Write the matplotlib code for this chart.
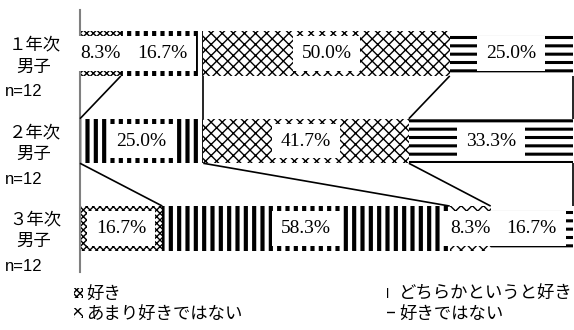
import matplotlib
matplotlib.use("Agg")
import matplotlib.pyplot as plt
import numpy as np

# ---- data ----
grades = ['１年次', '２年次', '３年次']
gender = '男子'
n_labels = ['n=12', 'n=12', 'n=12']
series = ['好き', 'どちらかというと好き', 'あまり好きではない', '好きではない']
like = [8.3, 0.0, 16.7]
rather_like = [16.7, 25.0, 58.3]
not_much = [50.0, 41.7, 8.3]
dislike = [25.0, 33.3, 16.7]

hatches = ['xxxxx', '||', 'xxx', '--']
hatch_lws = [1.0, 3.0, 1.0, 2.2]

plt.rcParams['font.family'] = ['Noto Sans CJK JP', 'DejaVu Sans']

fig = plt.figure(figsize=(5.74, 3.30), dpi=100)
ax = fig.add_axes([80 / 574, 1 - 272 / 330, 493 / 574, 262 / 330])

values = np.array([like, rather_like, not_much, dislike])
ypos = np.arange(len(grades)) + 0.5
h = 0.51
left = np.zeros(len(grades))
bars = []
for k, name in enumerate(series):
    with plt.rc_context({'hatch.linewidth': hatch_lws[k], 'hatch.color': 'black'}):
        b = ax.barh(ypos, values[k], left=left, height=h, color='white',
                    edgecolor='black', linewidth=0, hatch=hatches[k], label=name, zorder=2)
    for p in b.patches:
        if hasattr(p, 'set_hatch_linewidth'):
            p.set_hatch_linewidth(hatch_lws[k])
    bars.append(b)
    for i, v in enumerate(values[k]):
        if v > 0:
            ax.text(left[i] + v / 2, ypos[i], f'{v:.1f}%', ha='center', va='center',
                    fontsize=14, family=['Liberation Serif'], zorder=4,
                    bbox=dict(facecolor='white', edgecolor='none', pad=6.5))
    left = left + values[k]

# series lines between bars
cum = np.cumsum(values, axis=0)
for i in range(len(grades) - 1):
    for k in range(len(series)):
        ax.plot([cum[k, i], cum[k, i + 1]],
                [ypos[i] + h / 2, ypos[i + 1] - h / 2], color='black', lw=1.2, zorder=3,
                solid_capstyle='butt', clip_on=False)

ax.set_xlim(0, 100)
ax.set_ylim(3, 0)
for s in ['top', 'right', 'bottom']:
    ax.spines[s].set_visible(False)
ax.spines['left'].set_color('#808080')
ax.spines['left'].set_linewidth(1.5)
ax.set_xticks([])
ax.set_yticks([])

# category labels
fig.canvas.draw()
for i, g in enumerate(grades):
    base = ax.transData.transform((0, ypos[i]))[1]
    fig.text(35 / 574, (base + 9) / 330, g, ha='center', va='center', fontsize=12.5)
    fig.text(34 / 574, (base - 13) / 330, gender, ha='center', va='center', fontsize=12.5)
    fig.text(5 / 574, (base - 38) / 330, n_labels[i], ha='left', va='center',
             fontsize=12, family=['Liberation Sans'])

handles = [bars[0], bars[2], bars[1], bars[3]]
labels = [series[0], series[2], series[1], series[3]]
leg = fig.legend(handles, labels, ncol=2, loc='upper left',
                 bbox_to_anchor=(74 / 574, 1 - 285 / 330), frameon=False,
                 fontsize=12.5, handlelength=0.5, handleheight=0.5, handletextpad=0.2,
                 columnspacing=8.3, labelspacing=0.12, borderaxespad=0, borderpad=0)

fig.savefig('out.png', dpi=100)
